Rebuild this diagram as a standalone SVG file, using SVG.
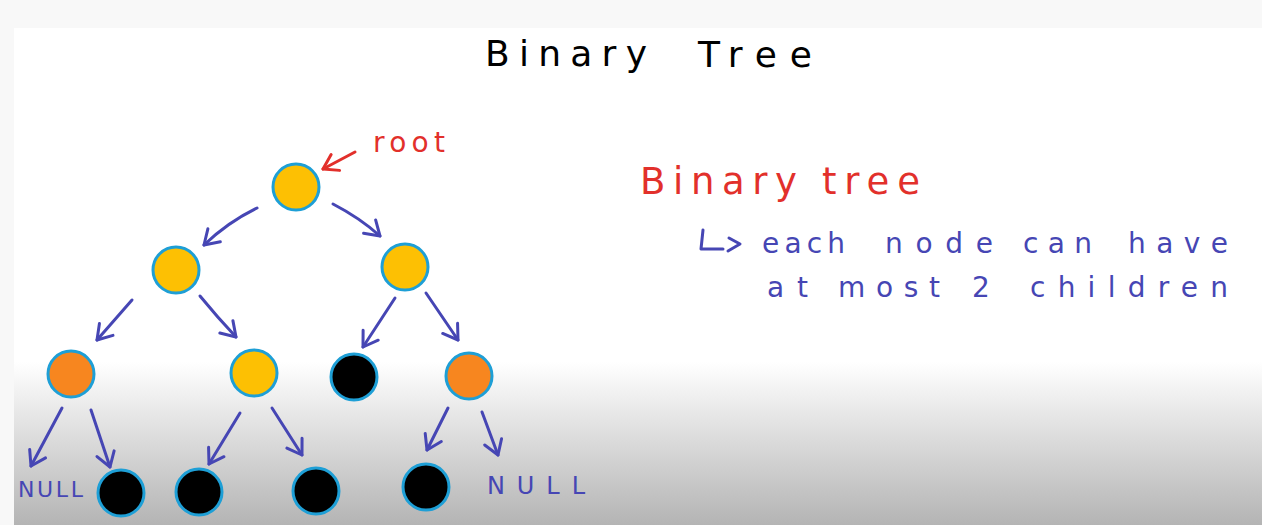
<svg xmlns="http://www.w3.org/2000/svg" width="1262" height="525" viewBox="0 0 1262 525">
<style>
.node{stroke:#1e9fd6;stroke-width:3}
.y{fill:#fdc003}.o{fill:#f7861f}.k{fill:#000}
.edge{fill:none;stroke:#4646b4;stroke-width:3;stroke-linecap:round;stroke-linejoin:round}
.hand{font-family:"DejaVu Sans","Liberation Sans",sans-serif}
.blue{fill:#4646b4}.red{fill:#e2302b}
</style>
<defs>
<linearGradient id="bg" x1="0" y1="28" x2="0" y2="525" gradientUnits="userSpaceOnUse">
<stop offset="0" stop-color="#ffffff"/>
<stop offset="0.672" stop-color="#ffffff"/>
<stop offset="1" stop-color="#b4b4b4"/>
</linearGradient>
<marker id="ah" viewBox="-16 -11 18 22" refX="0" refY="0" markerWidth="18" markerHeight="22" markerUnits="userSpaceOnUse" orient="auto">
<path d="M-14,-9 L0,0 L-14,9" fill="none" stroke="#4646b4" stroke-width="3" stroke-linecap="round" stroke-linejoin="round"/>
</marker>
<marker id="ahr" viewBox="-16 -11 18 22" refX="0" refY="0" markerWidth="18" markerHeight="22" markerUnits="userSpaceOnUse" orient="auto">
<path d="M-14,-9 L0,0 L-14,9" fill="none" stroke="#e2302b" stroke-width="3" stroke-linecap="round" stroke-linejoin="round"/>
</marker>
</defs>
<rect x="0" y="0" width="1262" height="525" fill="#f8f8f8"/>
<rect x="14" y="28" width="1248" height="497" fill="url(#bg)"/>

<g id="title" class="hand" font-size="36" fill="#000">
<text x="485" y="66" textLength="162" lengthAdjust="spacing">Binary</text>
<text x="698" y="67" textLength="114" lengthAdjust="spacing">Tree</text>
</g>

<g id="connectors">
<path class="edge" marker-end="url(#ah)" d="M257 208 Q228 222 204 245"/>
<path class="edge" marker-end="url(#ah)" d="M333 204 Q360 218 380 236"/>
<path class="edge" marker-end="url(#ah)" d="M132 300 L97 340"/>
<path class="edge" marker-end="url(#ah)" d="M200 296 Q218 318 236 337"/>
<path class="edge" marker-end="url(#ah)" d="M395 298 L363 347"/>
<path class="edge" marker-end="url(#ah)" d="M426 293 L458 340"/>
<path class="edge" marker-end="url(#ah)" d="M62 408 L31 466"/>
<path class="edge" marker-end="url(#ah)" d="M91 410 L110 467"/>
<path class="edge" marker-end="url(#ah)" d="M240 413 L209 464"/>
<path class="edge" marker-end="url(#ah)" d="M272 408 L302 455"/>
<path class="edge" marker-end="url(#ah)" d="M448 408 L427 450"/>
<path class="edge" marker-end="url(#ah)" d="M482 412 L498 455"/>
<path class="edge" style="stroke:#e2302b" marker-end="url(#ahr)" d="M355 152 L323 169"/>
</g>

<g id="root"><circle class="node y" cx="296" cy="187" r="23"/></g>
<g id="n1"><circle class="node y" cx="176" cy="270" r="23"/></g>
<g id="n2"><circle class="node y" cx="405" cy="267" r="23"/></g>
<g id="n3"><circle class="node o" cx="71" cy="374" r="23"/></g>
<g id="n4"><circle class="node y" cx="254" cy="373" r="23"/></g>
<g id="n5"><circle class="node k" cx="354" cy="377" r="23"/></g>
<g id="n6"><circle class="node o" cx="469" cy="376" r="23"/></g>
<g id="n7"><circle class="node k" cx="121" cy="493" r="23"/></g>
<g id="n8"><circle class="node k" cx="199" cy="492" r="23"/></g>
<g id="n9"><circle class="node k" cx="316" cy="491" r="23"/></g>
<g id="n10"><circle class="node k" cx="426" cy="487" r="23"/></g>

<text class="hand red" x="373" y="152" font-size="28" textLength="72" lengthAdjust="spacing">root</text>
<text class="hand blue" x="18" y="497" font-size="22" textLength="65" lengthAdjust="spacing">NULL</text>
<text class="hand blue" x="487" y="494" font-size="24" textLength="98" lengthAdjust="spacing">NULL</text>

<g id="note" class="hand">
<g class="red" font-size="37">
<text x="640" y="194" textLength="157" lengthAdjust="spacing">Binary</text>
<text x="822" y="194" textLength="98" lengthAdjust="spacing">tree</text>
</g>
<path d="M703 230 L701 249 L723 249 M729 238 L740 244 L728 251" fill="none" stroke="#4646b4" stroke-width="3" stroke-linecap="round" stroke-linejoin="round"/>
<g class="blue" font-size="28">
<text x="762" y="253" textLength="83" lengthAdjust="spacing">each</text>
<text x="885" y="253" textLength="108" lengthAdjust="spacing">node</text>
<text x="1023" y="253" textLength="69" lengthAdjust="spacing">can</text>
<text x="1128" y="253" textLength="100" lengthAdjust="spacing">have</text>
<text x="767" y="297" textLength="41" lengthAdjust="spacing">at</text>
<text x="838" y="297" textLength="102" lengthAdjust="spacing">most</text>
<text x="972" y="297">2</text>
<text x="1030" y="297" textLength="198" lengthAdjust="spacing">children</text>
</g>
</g>
</svg>
